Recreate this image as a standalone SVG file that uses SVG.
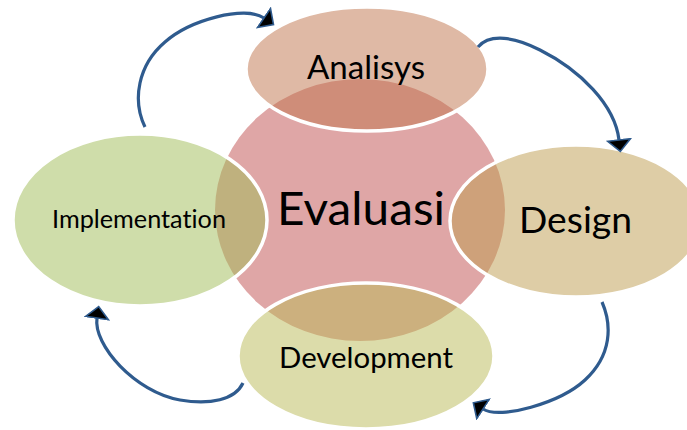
<svg xmlns="http://www.w3.org/2000/svg" width="687" height="430" viewBox="0 0 687 430">
  <style>
    .lobe { stroke: #ffffff; stroke-width: 3.5; fill-opacity: 0.5; }
    .label { font-family: Lato, "Open Sans", "DejaVu Sans", sans-serif; fill: #000000; font-variant-ligatures: none; font-feature-settings: "liga" 0, "clig" 0; }
    .flow { fill: none; stroke: #2f5b8e; stroke-width: 3.2; stroke-linecap: butt; }
  </style>
  <defs>
    <marker id="head" markerUnits="userSpaceOnUse" viewBox="-1 -13 14 26" refX="0" refY="0" markerWidth="14" markerHeight="26" orient="auto">
      <path d="M0,-11.5 L11.5,0 L0,11.5 Z" fill="#000000" stroke="#2f5b8e" stroke-width="1.6" stroke-linejoin="miter"/>
    </marker>
  </defs>

  <!-- central stage -->
  <g id="evaluasi">
    <ellipse cx="360" cy="210" rx="145" ry="131" fill="#dfa6a6"/>
  </g>

  <!-- surrounding stages -->
  <g id="analisys">
    <ellipse class="lobe" cx="367" cy="69" rx="121" ry="62" fill="#bf734b"/>
    <text class="label" x="307" y="79" font-size="33" textLength="118" lengthAdjust="spacingAndGlyphs">Analisys</text>
  </g>
  <g id="design">
    <ellipse class="lobe" cx="576" cy="221" rx="126" ry="76" fill="#bd9b4d"/>
    <text class="label" x="519" y="233" font-size="36" textLength="113" lengthAdjust="spacingAndGlyphs">Design</text>
  </g>
  <g id="development">
    <ellipse class="lobe" cx="366" cy="356" rx="128" ry="73" fill="#b9b955"/>
    <text class="label" x="279" y="368" font-size="28" textLength="174" lengthAdjust="spacingAndGlyphs">Development</text>
  </g>
  <g id="implementation">
    <ellipse class="lobe" cx="140" cy="220" rx="127" ry="86" fill="#9fbb55"/>
    <text class="label" x="52" y="228" font-size="24.5" textLength="174" lengthAdjust="spacingAndGlyphs">Implementation</text>
  </g>

  <!-- centre label drawn above the lobes -->
  <g id="evaluasi-label">
    <text class="label" x="277" y="225" font-size="46" textLength="168" lengthAdjust="spacingAndGlyphs">Evaluasi</text>
  </g>

  <!-- cycle arrows -->
  <g id="connectors">
    <path class="flow" marker-end="url(#head)" d="M145,127 C132,100 138,65 165,42 C190,20 245,5 264,18"/>
    <path class="flow" marker-end="url(#head)" d="M478,47 C490,33 515,37 540,50 C580,70 615,105 619,140"/>
    <path class="flow" marker-end="url(#head)" d="M602,302 C612,325 612,355 585,380 C560,403 500,420 483,409"/>
    <path class="flow" marker-end="url(#head)" d="M243,383 C235,400 210,405 180,400 C135,392 93,345 97,318"/>
  </g>
</svg>
